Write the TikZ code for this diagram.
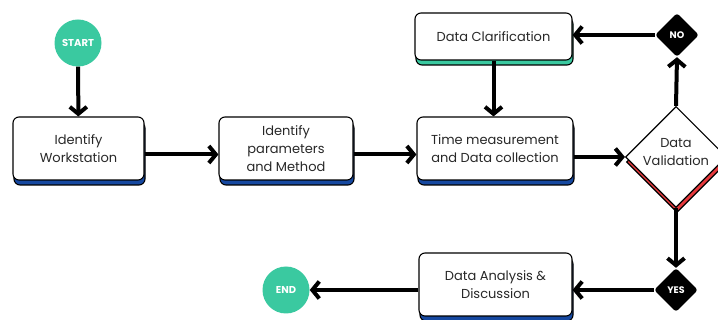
\documentclass[tikz,border=0pt]{standalone}
\usepackage{fontspec}
\setmainfont{Poppins}
\usetikzlibrary{arrows.meta,positioning,shapes.geometric,shadows}
\definecolor{flowBlue}{RGB}{22, 72, 160}
\definecolor{flowGreen}{RGB}{58, 201, 160}
\definecolor{flowRed}{RGB}{230, 57, 60}
\definecolor{flowText}{RGB}{40, 40, 40}

\begin{document}
\begin{tikzpicture}[
  x=1pt, y=-1pt,
  box/.style={draw, line width=1.1pt, rounded corners=6pt, fill=white, align=center, text=flowText,
              minimum height=63pt, inner sep=2pt, font=\fontsize{13}{18}\selectfont},
  lift/.style={general shadow={fill=#1, draw=black, line width=1.1pt,
              shadow xshift=1pt, shadow yshift=-5pt}},
  terminal/.style={circle, fill=flowGreen, minimum size=47pt, inner sep=0pt,
              text=white, font=\fontsize{10}{10}\selectfont\bfseries},
  choice/.style={diamond, fill=black, rounded corners=3pt, minimum size=44pt, inner sep=0pt,
              text=white, font=\fontsize{9.5}{10}\selectfont\bfseries},
  arrow/.style={-{Straight Barb[length=7pt, width=17pt]}, line width=4pt}
]
\useasboundingbox (0,0) rectangle (718,320);

\node[terminal] (start) at (78,43) {START};
\node[box, lift=flowBlue, minimum width=131pt] (workstation) at (78.5,148.5) {Identify\\Workstation};
\node[box, lift=flowBlue, minimum width=134pt] (parameters) at (286,148.5) {Identify\\parameters\\and Method};
\node[box, lift=flowBlue, minimum width=156pt] (measurement) at (495,148.5) {Time measurement\\and Data collection};
\node[box, lift=flowGreen, minimum width=157pt, minimum height=47pt] (clarification) at (493.5,36.5) {Data Clarification};
\node[diamond, draw, line width=1.1pt, fill=white, lift=flowRed, minimum size=101pt, inner sep=0pt,
      label={[font=\fontsize{13}{18}\selectfont, text=flowText, align=center, yshift=5pt]center:Data\\Validation}] (validation) at (676,157) {};
\node[choice] (no) at (677,35) {NO};
\node[choice] (yes) at (676,290) {YES};
\node[box, lift=flowBlue, minimum width=153pt] (analysis) at (495.5,284.5) {Data Analysis \&\\Discussion};
\node[terminal] (end) at (286,290) {END};

% main flow
\draw[arrow] (start) -- (workstation);
\draw[arrow] ([yshift=-6pt]workstation.east) -- ([yshift=-6pt]parameters.west);
\draw[arrow] ([yshift=-6pt]parameters.east) -- ([yshift=-6pt]measurement.west);
\draw[arrow] (measurement.east |- validation.west) -- (validation.west);

% validation loop
\draw[arrow] (validation.north) -- (no.south);
\draw[arrow] (no.west) -- (clarification.east |- no.west);
\draw[arrow] (clarification.south) -- (clarification.south |- measurement.north);

% accepted data
\draw[arrow] (validation.south) -- (yes.north);
\draw[arrow] (yes.west) -- (analysis.east |- yes.west);
\draw[arrow] (analysis.west |- end.east) -- (end.east);
\end{tikzpicture}
\end{document}
